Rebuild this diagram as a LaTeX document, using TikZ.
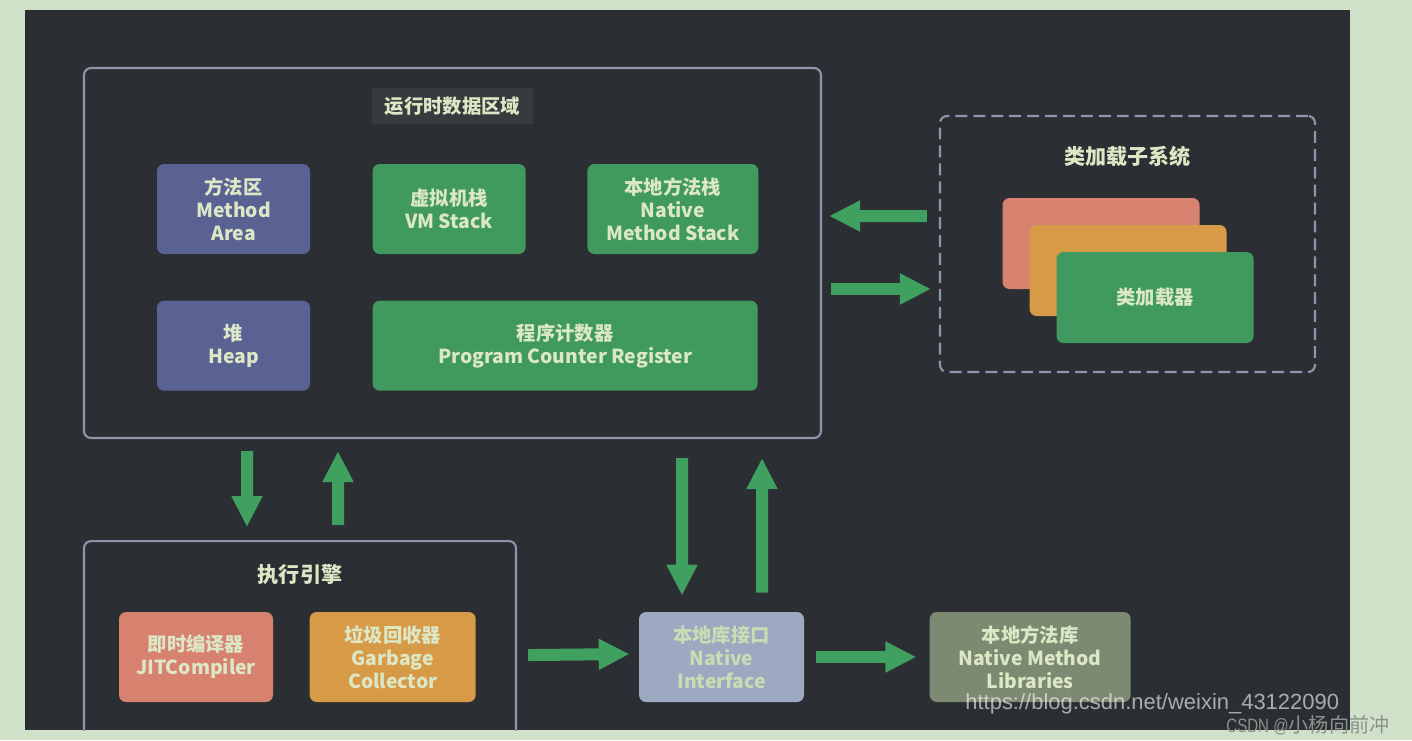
\documentclass[tikz,border=0pt]{standalone}
\usepackage{fontspec}
\usepackage{graphicx}
\usepackage{tikz}
\usetikzlibrary{arrows.meta, calc, positioning}

\newfontfamily\cjk{Noto Sans CJK SC}
\newfontfamily\wmfont{Liberation Sans}

\definecolor{pagebg}{HTML}{CFE1C8}
\definecolor{panel}{HTML}{2B2E33}
\definecolor{framegrey}{HTML}{8E94AA}
\definecolor{txt}{HTML}{DCE7C6}
\definecolor{titlehl}{HTML}{373B3D}
\definecolor{methodblue}{HTML}{5A6294}
\definecolor{stackgreen}{HTML}{40995E}
\definecolor{arrowgreen}{HTML}{3FA05F}
\definecolor{salmon}{HTML}{D6826F}
\definecolor{amber}{HTML}{D79B48}
\definecolor{nativeblue}{HTML}{9DA8C1}
\definecolor{nativetxt}{HTML}{C9DDB4}
\definecolor{libgrey}{HTML}{7D8A72}
\definecolor{wmgrey}{HTML}{8D918B}

\begin{document}
\begin{tikzpicture}[node distance=1.24cm,
    box/.style={rounded corners=4pt, inner sep=0pt, align=center, text=txt,
                minimum height=1.8cm, font=\cjk\bfseries\fontsize{11}{13}\selectfont},
    card/.style={box, minimum width=3.94cm, minimum height=1.82cm},
    region/.style={draw=framegrey, line width=1.2pt, rounded corners=4pt, inner sep=0pt},
    regiontitle/.style={text=txt, font=\cjk\bfseries\fontsize{12}{14}\selectfont},
    fat/.style={draw=arrowgreen, line width=0.24cm, -{Triangle[width=0.58cm,length=0.62cm]}}]

  \useasboundingbox[fill=pagebg] (0,0) rectangle (28.24,-14.8);
  \fill[panel] (0.5,-0.2) rectangle (27.0,-14.6);

  % runtime data area
  \node[region, minimum width=14.74cm, minimum height=7.40cm] (rda) at (9.05,-5.06) {};
  \node[regiontitle, fill=titlehl, minimum width=3.22cm, minimum height=0.72cm,
        font=\cjk\bfseries\fontsize{11}{13}\selectfont] (rdat) at ([yshift=-0.78cm]rda.north) {运行时数据区域};

  \node[box, fill=methodblue, minimum width=3.06cm] (method) at (4.67,-4.18) {方法区\\Method\\Area};
  \node[box, fill=stackgreen, minimum width=3.06cm, right=of method] (vm) {虚拟机栈\\VM Stack};
  \node[box, fill=stackgreen, minimum width=3.42cm, right=1.22cm of vm] (nms) {本地方法栈\\Native\\Method Stack};
  \node[box, fill=methodblue, minimum width=3.06cm, below=0.92cm of method] (heap) {堆\\Heap};
  \node[box, fill=stackgreen, minimum width=7.70cm, right=of heap] (pcr) {程序计数器\\Program Counter Register};

  % class loader subsystem
  \node[region, dash pattern=on 6.8pt off 3.4pt, minimum width=7.50cm, minimum height=5.12cm] (cls) at (22.55,-4.88) {};
  \node[regiontitle] (clst) at ([yshift=-0.84cm]cls.north) {类加载子系统};
  \node[card, fill=salmon] (red) at (22.02,-4.87) {};
  \node[card, fill=amber] (orange) at ([shift={(0.54,-0.54)}]red.center) {};
  \node[card, fill=stackgreen] (loader) at ([shift={(0.54,-0.54)}]orange.center) {类加载器};

  % execution engine
  \begin{scope}
    \clip (0.5,-0.2) rectangle (27.0,-14.6);
    \node[region, minimum width=8.64cm, minimum height=4.4cm, anchor=north] (exe) at (6.00,-10.80) {};
  \end{scope}
  \node[regiontitle] (exet) at ([yshift=-0.70cm]exe.north) {执行引擎};
  \node[box, fill=salmon, minimum width=3.08cm] (jit) at (3.92,-13.14) {即时编译器\\JITCompiler};
  \node[box, fill=amber, minimum width=3.32cm, right=0.72cm of jit] (gc) {垃圾回收器\\Garbage\\Collector};

  % native side
  \node[box, fill=nativeblue, text=nativetxt, minimum width=3.30cm] (ni) at (14.43,-13.14) {本地库接口\\Native\\Interface};
  \node[box, fill=libgrey, minimum width=4.02cm, right=2.5cm of ni] (nml) {本地方法库\\Native Method\\Libraries};

  % arrows
  \draw[fat] ([xshift=-4.11cm,yshift=-0.24cm]rda.south) -- ([xshift=-1.06cm,yshift=0.26cm]exe.north);
  \draw[fat] ([xshift=0.76cm,yshift=0.30cm]exe.north) -- ([xshift=-2.29cm,yshift=-0.24cm]rda.south);
  \draw[fat] ([xshift=4.59cm,yshift=-0.38cm]rda.south) -- ([xshift=-0.79cm,yshift=0.32cm]ni.north);
  \draw[fat] ([xshift=0.81cm,yshift=0.38cm]ni.north) -- ([xshift=6.19cm,yshift=-0.38cm]rda.south);
  \draw[fat] ([xshift=-0.24cm,yshift=0.56cm]cls.west) -- ([xshift=0.14cm,yshift=0.74cm]rda.east);
  \draw[fat] ([xshift=0.18cm,yshift=-0.72cm]rda.east) -- ([xshift=-0.16cm,yshift=-0.90cm]cls.west);
  \draw[fat] ([xshift=0.22cm,yshift=-0.08cm]exe.east) -- ([xshift=-0.18cm,yshift=0.06cm]ni.west);
  \draw[fat] ([xshift=0.24cm]ni.east) -- ([xshift=-0.26cm]nml.west);

  % watermark
  \node[anchor=west, inner sep=0pt, text=white, text opacity=0.6,
        font=\wmfont\fontsize{12.5}{14}\selectfont] (url) at (19.30,-14.08) {https://blog.csdn.net/weixin\_43122090};
  \node[anchor=west, inner sep=0pt, text=wmgrey,
        font=\wmfont\fontsize{11}{13}\selectfont] (csdn) at (24.52,-14.50) {\scalebox{0.78}[1]{CSDN @}{\cjk\fontsize{11.5}{13}\selectfont 小杨向前冲}};

\end{tikzpicture}
\end{document}
